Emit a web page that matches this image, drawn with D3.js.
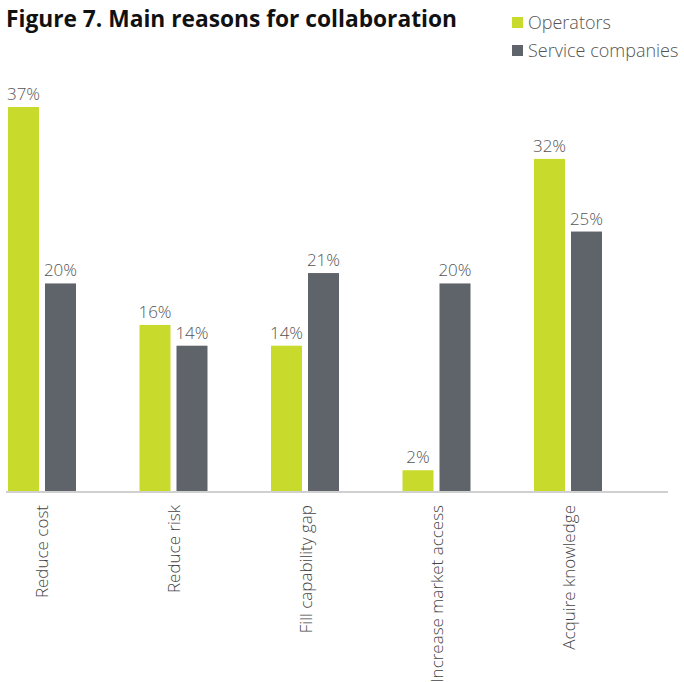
<!DOCTYPE html>
<html>
<head>
<meta charset="utf-8">
<script src="https://cdn.jsdelivr.net/npm/d3@7"></script>
<style>
  html, body { margin: 0; padding: 0; background: #fff; }
  svg { display: block; }
</style>
</head>
<body>
<svg id="chart" width="684" height="682"></svg>
<script>
// Survey results: share of respondents citing each reason
const categories = ["Reduce cost", "Reduce risk", "Fill capability gap", "Increase market access", "Acquire knowledge"];
const seriesNames = ["Operators", "Service companies"];
const operators = [37, 16, 14, 2, 32];
const serviceCompanies = [20, 14, 21, 20, 25];
const colors = ["#c8da2b", "#5f636a"];

const rows = categories.map((c, i) => ({ category: c, values: [operators[i], serviceCompanies[i]] }));

const svg = d3.select("#chart");
const font = "'Open Sans', 'Noto Sans', sans-serif";
const baseline = 491;

const x0 = d3.scaleBand()
  .domain(categories)
  .range([8, 602])
  .paddingInner(0.483)
  .paddingOuter(0);

const x1 = d3.scaleBand()
  .domain(seriesNames)
  .range([0, x0.bandwidth()])
  .paddingInner(0.162);

const y = d3.scaleLinear()
  .domain([0, 37])
  .range([baseline, 107]);

// Title
svg.append("text")
  .attr("x", 6)
  .attr("y", 27)
  .attr("font-family", font)
  .attr("font-weight", 700)
  .attr("font-size", 23)
  .attr("fill", "#111")
  .attr("textLength", 451)
  .attr("lengthAdjust", "spacingAndGlyphs")
  .text("Figure 7. Main reasons for collaboration");

// Legend
const legend = svg.append("g");
seriesNames.forEach((name, i) => {
  const g = legend.append("g").attr("transform", `translate(512, ${17 + i * 28})`);
  g.append("rect").attr("width", 11).attr("height", 11).attr("fill", colors[i]);
  g.append("text")
    .attr("x", 16).attr("y", 12)
    .attr("font-family", font).attr("font-weight", 300).attr("font-size", 18)
    .attr("fill", "#555").text(name);
});

// Bars
const groups = svg.append("g").selectAll("g")
  .data(rows).join("g")
  .attr("transform", d => `translate(${x0(d.category)},0)`);

const cells = d => d.values.map((v, i) => ({ key: seriesNames[i], value: v, i }));

groups.selectAll("rect")
  .data(cells)
  .join("rect")
  .attr("x", d => x1(d.key))
  .attr("y", d => y(d.value))
  .attr("width", x1.bandwidth())
  .attr("height", d => baseline - y(d.value))
  .attr("fill", d => colors[d.i]);

groups.selectAll("text.value")
  .data(cells)
  .join("text")
  .attr("class", "value")
  .attr("x", d => x1(d.key) + x1.bandwidth() / 2)
  .attr("y", d => y(d.value) - 7)
  .attr("text-anchor", "middle")
  .attr("font-family", font).attr("font-weight", 300).attr("font-size", 17)
  .attr("fill", "#555")
  .text(d => d.value + "%");

// Category axis
const xAxis = d3.axisBottom(x0).tickSize(0).tickPadding(0);
const axisG = svg.append("g")
  .attr("transform", `translate(0,${baseline})`)
  .call(xAxis);
axisG.select(".domain").remove();
axisG.append("line")
  .attr("x1", 6).attr("x2", 668)
  .attr("y1", 1).attr("y2", 1)
  .attr("stroke", "#d0d0d0").attr("stroke-width", 2);
axisG.selectAll(".tick text")
  .attr("font-family", font).attr("font-weight", 300).attr("font-size", 17)
  .attr("fill", "#444")
  .attr("text-anchor", "end")
  .attr("dy", null)
  .attr("transform", "translate(0,14) rotate(-90)")
  .attr("x", 0).attr("y", 0)
  .attr("dominant-baseline", "central");
</script>
</body>
</html>
